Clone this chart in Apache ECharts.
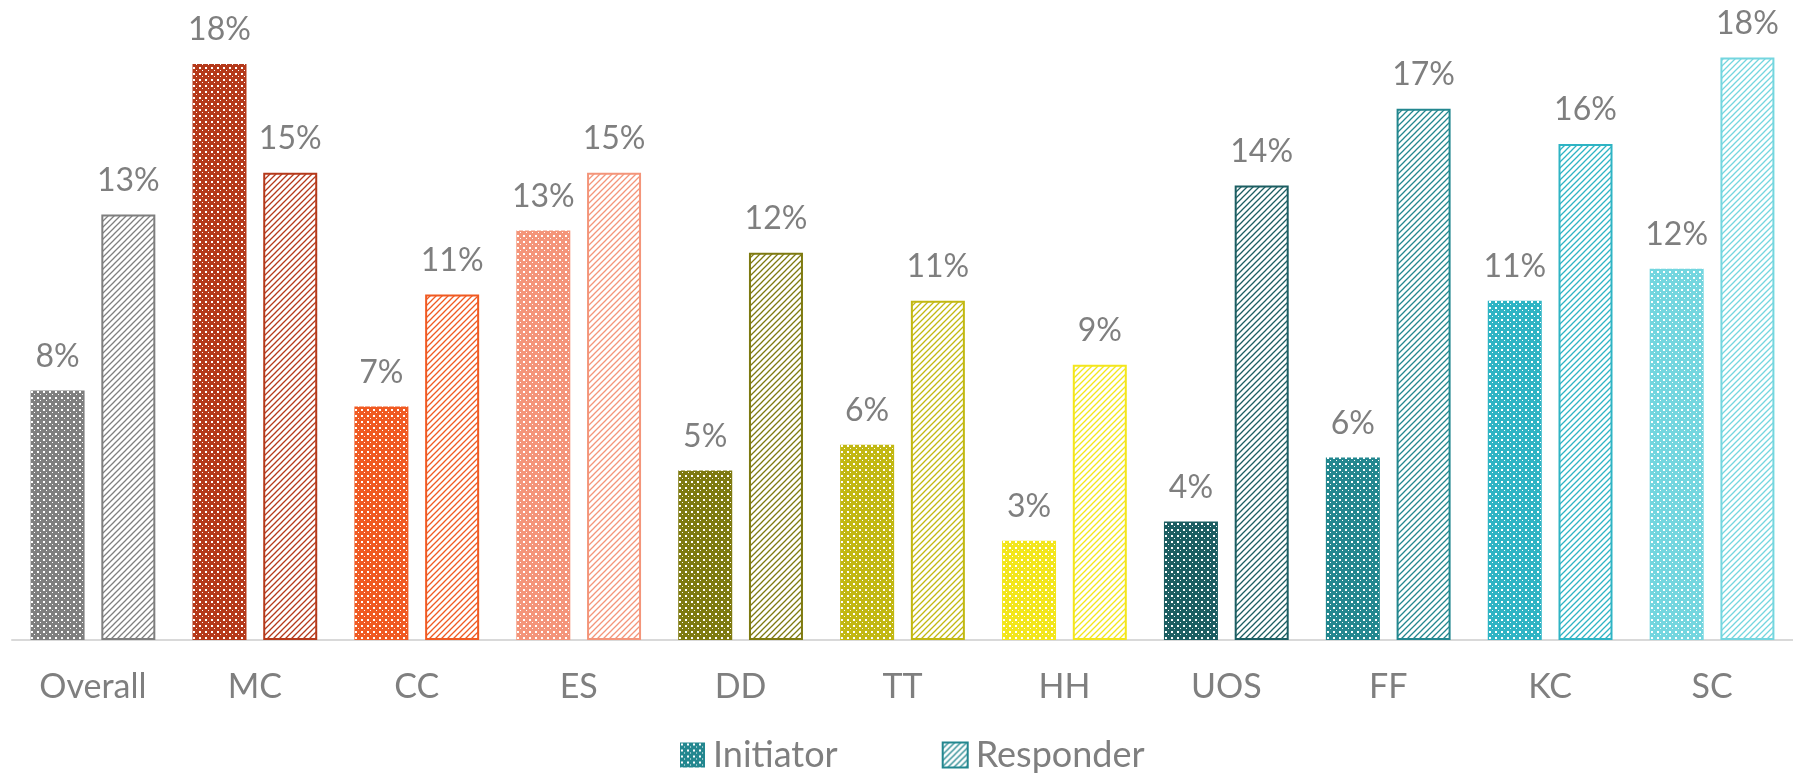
<!DOCTYPE html>
<html>
<head>
<meta charset="utf-8">
<script src="https://cdn.jsdelivr.net/npm/echarts@6/dist/echarts.min.js"></script>
<style>
  html, body { margin: 0; padding: 0; background: #fff; }
  #chart { width: 1793px; height: 780px; }
</style>
</head>
<body>
<div id="chart"></div>
<script>
  // categories and values (percent)
  const categories = ['Overall', 'MC', 'CC', 'ES', 'DD', 'TT', 'HH', 'UOS', 'FF', 'KC', 'SC']
  const initiator = [7.8, 18.0, 7.3, 12.8, 5.3, 6.1, 3.1, 3.7, 5.7, 10.6, 11.6]
  const responder = [13.3, 14.6, 10.8, 14.6, 12.1, 10.6, 8.6, 14.2, 16.6, 15.5, 18.2]
  const colors = ['#7f7f7f', '#b5391a', '#f05a22', '#f4957a', '#7e7a10', '#c2b812', '#f3e61c',
    '#1c5e62', '#23878f', '#2eb4c4', '#74d6df']

  // white dots on colour
  function dotPattern(color) {
    const c = document.createElement('canvas')
    c.width = 6
    c.height = 6
    const ctx = c.getContext('2d')
    ctx.fillStyle = color
    ctx.fillRect(0, 0, 6, 6)
    ctx.fillStyle = '#fff'
    ctx.fillRect(1, 1, 2, 2)
    ctx.fillRect(4, 4, 1, 1)
    return c
  }
  // colour diagonal lines on white
  function hatchPattern(color) {
    const c = document.createElement('canvas')
    c.width = 6
    c.height = 6
    const ctx = c.getContext('2d')
    ctx.fillStyle = '#fff'
    ctx.fillRect(0, 0, 6, 6)
    ctx.strokeStyle = color
    ctx.lineWidth = 1.3
    ctx.beginPath()
    ctx.moveTo(-1, 7); ctx.lineTo(7, -1)
    ctx.moveTo(-1, 1); ctx.lineTo(1, -1)
    ctx.moveTo(5, 7); ctx.lineTo(7, 5)
    ctx.stroke()
    return c
  }

  const font = 'Lato'
  const chart = echarts.init(document.getElementById('chart'))

  const initData = initiator.map((v, i) => ({
    value: v,
    itemStyle: { color: { image: dotPattern(colors[i]), repeat: 'repeat' } }
  }))
  const respData = responder.map((v, i) => ({
    value: v,
    itemStyle: {
      color: { image: hatchPattern(colors[i]), repeat: 'repeat' },
      borderColor: colors[i],
      borderWidth: 2
    }
  }))

  const labelOpt = {
    show: true,
    position: 'top',
    distance: 18,
    color: '#7f7f7f',
    fontFamily: font,
    fontSize: 32,
    formatter: p => Math.round(p.value) + '%'
  }

  chart.setOption({
    animation: false,
    grid: { left: 12, right: 0, top: 0, bottom: 140 },
    legend: {
      bottom: 2,
      left: 675,
      itemWidth: 25,
      itemHeight: 25,
      itemGap: 104,
      textStyle: { color: '#7f7f7f', fontFamily: font, fontSize: 36, padding: [0, 0, 0, 3] },
      data: [
        { name: 'Initiator', icon: 'rect', itemStyle: { color: { image: dotPattern('#23878f'), repeat: 'repeat' } } },
        { name: 'Responder', icon: 'rect', itemStyle: { color: { image: hatchPattern('#23878f'), repeat: 'repeat' }, borderColor: '#23878f', borderWidth: 2 } }
      ]
    },
    xAxis: {
      type: 'category',
      data: categories,
      axisLine: { lineStyle: { color: '#d9d9d9', width: 2 } },
      axisTick: { show: false },
      axisLabel: { color: '#7f7f7f', fontFamily: font, fontSize: 34, margin: 30 }
    },
    yAxis: {
      type: 'value',
      min: 0,
      max: 20,
      show: false,
      splitLine: { show: false }
    },
    series: [
      {
        name: 'Initiator',
        type: 'bar',
        barWidth: 54,
        barGap: '31%',
        data: initData,
        label: labelOpt
      },
      {
        name: 'Responder',
        type: 'bar',
        barWidth: 54,
        data: respData,
        label: labelOpt
      }
    ]
  })
</script>
</body>
</html>
